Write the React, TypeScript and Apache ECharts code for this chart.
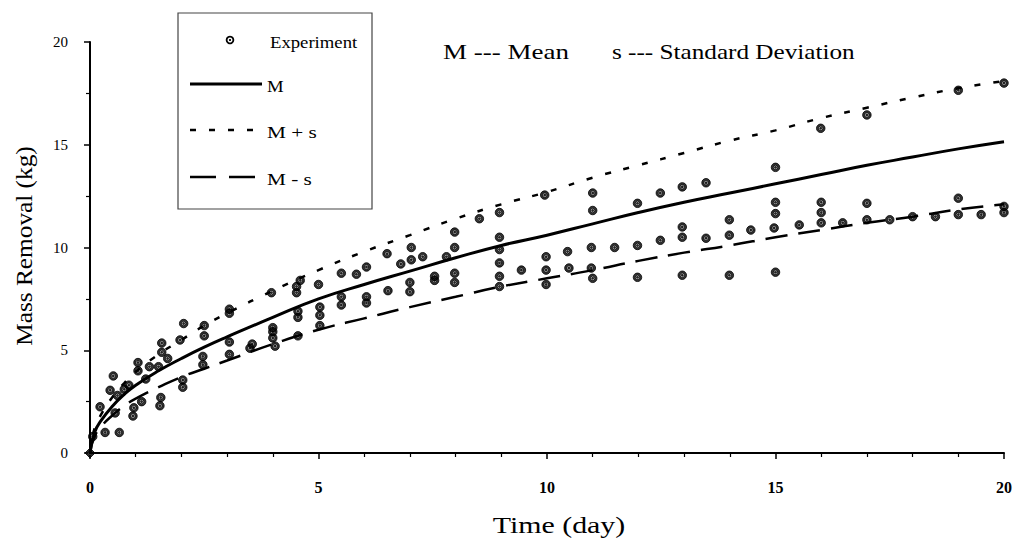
import React, { useEffect, useRef } from "react";
import * as echarts from "echarts";

// ---- data ----
const curveTime = [0, 0.1, 0.25, 0.5, 0.75, 1, 1.5, 2, 2.5, 3, 4, 5, 6, 7, 8, 9, 10, 11, 12, 13, 14, 15, 16, 17, 18, 19, 20];
const meanM = [0, 1.0, 1.6, 2.3, 2.85, 3.3, 4.0, 4.6, 5.15, 5.65, 6.6, 7.5, 8.2, 8.85, 9.5, 10.1, 10.6, 11.15, 11.7, 12.2, 12.65, 13.1, 13.55, 14.0, 14.4, 14.8, 15.15];
const meanPlusS = [0, 1.2, 1.9, 2.75, 3.4, 3.95, 4.8, 5.5, 6.2, 6.8, 7.9, 8.9, 9.8, 10.6, 11.4, 12.1, 12.7, 13.4, 14.0, 14.6, 15.2, 15.7, 16.3, 16.8, 17.3, 17.75, 18.1];
const meanMinusS = [0, 0.8, 1.3, 1.85, 2.3, 2.65, 3.2, 3.7, 4.1, 4.5, 5.3, 6.0, 6.55, 7.1, 7.6, 8.1, 8.5, 8.9, 9.35, 9.75, 10.1, 10.5, 10.85, 11.2, 11.5, 11.85, 12.1];

const expTime = [
  0, 0.06, 0.22, 0.33, 0.44, 0.51, 0.55, 0.64, 0.6, 0.75, 0.85, 0.94, 0.96, 1.05, 1.05, 1.13, 1.3, 1.22, 1.5, 1.53,
  1.55, 1.57, 1.57, 1.7, 1.97, 2.05, 2.03, 2.03, 2.5, 2.5, 2.47, 2.47, 3.05, 3.05, 3.05, 3.05, 3.5, 3.55, 3.97, 4.0,
  4.0, 4.0, 4.05, 4.52, 4.52, 4.55, 4.55, 4.55, 4.6, 5.0, 5.03, 5.03, 5.03, 5.5, 5.5, 5.5, 5.83, 6.05, 6.05, 6.05,
  6.5, 6.52, 6.8, 7.03, 7.03, 7.0, 7.0, 7.28, 7.54, 7.54, 7.8, 7.98, 7.98, 7.98, 7.98, 8.52, 8.96, 8.96, 8.96, 8.96,
  8.96, 8.96, 9.44, 9.95, 9.98, 9.98, 9.98, 10.45, 10.48, 11.0, 11.0, 10.97, 10.97, 11.0, 11.48, 11.98, 11.98, 11.98, 12.48, 12.48,
  12.96, 12.96, 12.96, 12.96, 13.48, 13.48, 13.99, 13.99, 13.99, 14.46, 15.0, 15.0, 15.0, 14.97, 15.0, 15.52, 15.99, 16.0, 16.0, 16.0,
  16.47, 17.0, 17.0, 17.0, 17.5, 18.0, 18.5, 19.0, 19.0, 19.0, 19.5, 20.0, 20.0, 20.0,
];
const expMass = [
  0, 0.8, 2.25, 1.0, 3.05, 3.75, 1.95, 1.0, 2.8, 3.1, 3.3, 1.8, 2.2, 4.0, 4.4, 2.5, 4.2, 3.6, 4.2, 2.3,
  2.7, 4.9, 5.35, 4.6, 5.5, 6.3, 3.2, 3.55, 6.2, 5.7, 4.7, 4.3, 6.8, 7.0, 5.4, 4.8, 5.1, 5.3, 7.8, 5.6,
  6.1, 5.9, 5.2, 8.1, 7.8, 6.9, 6.6, 5.7, 8.4, 8.2, 7.1, 6.7, 6.2, 8.75, 7.6, 7.2, 8.7, 9.05, 7.6, 7.3,
  9.7, 7.9, 9.2, 10.0, 9.4, 8.3, 7.85, 9.55, 8.6, 8.4, 9.55, 10.75, 10.0, 8.75, 8.3, 11.4, 11.7, 10.5, 9.9, 9.25,
  8.6, 8.1, 8.9, 12.55, 9.55, 8.9, 8.2, 9.8, 9.0, 12.65, 11.8, 10.0, 9.0, 8.5, 10.0, 12.15, 10.1, 8.55, 12.65, 10.35,
  12.95, 11.0, 10.5, 8.65, 13.15, 10.45, 11.35, 10.6, 8.65, 10.85, 13.9, 12.2, 11.65, 10.95, 8.8, 11.1, 15.8, 12.2, 11.7, 11.2,
  11.2, 16.45, 12.15, 11.35, 11.35, 11.5, 11.5, 17.65, 12.4, 11.6, 11.6, 18.0, 11.7, 12.0,
];

const xMin = 0;
const xMax = 20;
const xStep = 5;
const yMin = 0;
const yMax = 20;
const yStep = 5;

const legendLabels = ["Experiment", "M", "M + s", "M - s"];
const noteMean = "M --- Mean";
const noteStd = "s --- Standard Deviation";
const xTitle = "Time (day)";
const yTitle = "Mass Removal (kg)";

const FONT = "'Liberation Serif', 'DejaVu Serif', serif";
const DOT_SYMBOL =
  "path://M0,-5 A5,5 0 1,1 0,5 A5,5 0 1,1 0,-5 Z M0,-2.6 A2.6,2.6 0 1,0 0,2.6 A2.6,2.6 0 1,0 0,-2.6 Z M0,-1.2 A1.2,1.2 0 1,1 0,1.2 A1.2,1.2 0 1,1 0,-1.2 Z";
const DIAMOND_SYMBOL = "path://M0,-5 L5,0 L0,5 L-5,0 Z M0,-2.8 L-2.8,0 L0,2.8 L2.8,0 Z";

export default function App() {
  const ref = useRef<HTMLDivElement>(null);

  useEffect(() => {
    if (!ref.current) return;
    const chart = echarts.init(ref.current, undefined, { renderer: "svg" });

    const pair = (xs: number[], ys: number[]) => xs.map((x, i) => [x, ys[i]]);
    const expData = expTime.map((t, i) => {
      if (t === 0 && expMass[i] === 0) {
        return { value: [t, expMass[i]], symbol: DIAMOND_SYMBOL, symbolSize: 10 };
      }
      return { value: [t, expMass[i]] };
    });

    const legendX = 190;
    const legendY = [40, 84, 130, 177];
    const legendFont = `17px ${FONT}`;

    chart.setOption({
      animation: false,
      backgroundColor: "#ffffff",
      grid: { left: 90, right: 10, top: 42, bottom: 89 },
      xAxis: {
        type: "value",
        min: xMin,
        max: xMax,
        interval: xStep,
        axisLine: { show: true, lineStyle: { color: "#000", width: 2 } },
        axisTick: { show: true, length: 6, lineStyle: { color: "#000", width: 1.5 } },
        minorTick: { show: true, splitNumber: 5, length: 4, lineStyle: { color: "#000", width: 1.2 } },
        splitLine: { show: false },
        axisLabel: { fontFamily: FONT, fontSize: 16, fontWeight: "bold", color: "#000", margin: 26 },
      },
      yAxis: {
        type: "value",
        min: yMin,
        max: yMax,
        interval: yStep,
        axisLine: { show: true, lineStyle: { color: "#000", width: 2 } },
        axisTick: { show: true, length: 6, lineStyle: { color: "#000", width: 1.5 } },
        minorTick: { show: true, splitNumber: 2, length: 4, lineStyle: { color: "#000", width: 1.2 } },
        splitLine: { show: false },
        axisLabel: { fontFamily: FONT, fontSize: 15, color: "#000", margin: 22 },
      },
      series: [
        {
          name: legendLabels[1],
          type: "line",
          data: pair(curveTime, meanM),
          smooth: true,
          showSymbol: false,
          symbol: "none",
          lineStyle: { color: "#000", width: 3 },
          z: 2,
        },
        {
          name: legendLabels[2],
          type: "line",
          data: pair(curveTime, meanPlusS),
          smooth: true,
          showSymbol: false,
          symbol: "none",
          lineStyle: { color: "#000", width: 2.5, type: [6, 13] },
          z: 2,
        },
        {
          name: legendLabels[3],
          type: "line",
          data: pair(curveTime, meanMinusS),
          smooth: true,
          showSymbol: false,
          symbol: "none",
          lineStyle: { color: "#000", width: 2.5, type: [22, 11] },
          z: 2,
        },
        {
          name: legendLabels[0],
          type: "scatter",
          data: expData,
          symbol: DOT_SYMBOL,
          symbolSize: 8.5,
          itemStyle: { color: "#000", borderColor: "#000" },
          z: 3,
        },
      ],
      graphic: [
        // axis titles
        {
          type: "text",
          x: 559,
          y: 525,
          scaleX: 1.3,
          style: { text: xTitle, font: `23px ${FONT}`, fill: "#000", align: "center", verticalAlign: "middle" },
        },
        {
          type: "text",
          x: 24,
          y: 246,
          rotation: Math.PI / 2,
          scaleX: 1.1,
          style: { text: yTitle, font: `23px ${FONT}`, fill: "#000", align: "center", verticalAlign: "middle" },
        },
        // legend box
        {
          type: "rect",
          shape: { x: 178, y: 13, width: 194, height: 196 },
          style: { fill: "none", stroke: "#444", lineWidth: 1.2 },
        },
        {
          type: "circle",
          shape: { cx: 230, cy: legendY[0], r: 3.4 },
          style: { fill: "#fff", stroke: "#000", lineWidth: 1.8 },
        },
        {
          type: "circle",
          shape: { cx: 230, cy: legendY[0], r: 1.1 },
          style: { fill: "#000" },
        },
        {
          type: "text",
          x: 270,
          y: legendY[0] + 2,
          scaleX: 1.1,
          style: { text: legendLabels[0], font: legendFont, fill: "#000", verticalAlign: "middle" },
        },
        {
          type: "line",
          shape: { x1: legendX, y1: legendY[1], x2: 262, y2: legendY[1] },
          style: { stroke: "#000", lineWidth: 3 },
        },
        {
          type: "text",
          x: 267,
          y: legendY[1] + 2,
          scaleX: 1.1,
          style: { text: legendLabels[1], font: legendFont, fill: "#000", verticalAlign: "middle" },
        },
        {
          type: "line",
          shape: { x1: legendX, y1: legendY[2], x2: 262, y2: legendY[2] },
          style: { stroke: "#000", lineWidth: 2.5, lineDash: [6, 13] },
        },
        {
          type: "text",
          x: 267,
          y: legendY[2] + 2,
          scaleX: 1.25,
          style: { text: legendLabels[2], font: legendFont, fill: "#000", verticalAlign: "middle" },
        },
        {
          type: "line",
          shape: { x1: legendX, y1: legendY[3], x2: 262, y2: legendY[3] },
          style: { stroke: "#000", lineWidth: 2.5, lineDash: [26, 13] },
        },
        {
          type: "text",
          x: 267,
          y: legendY[3] + 2,
          scaleX: 1.25,
          style: { text: legendLabels[3], font: legendFont, fill: "#000", verticalAlign: "middle" },
        },
        // annotation
        {
          type: "text",
          x: 443,
          y: 52,
          scaleX: 1.35,
          style: { text: noteMean, font: `20px ${FONT}`, fill: "#000", verticalAlign: "middle" },
        },
        {
          type: "text",
          x: 612,
          y: 52,
          scaleX: 1.26,
          style: { text: noteStd, font: `20px ${FONT}`, fill: "#000", verticalAlign: "middle" },
        },
      ],
    });

    return () => chart.dispose();
  }, []);

  return (
    <div
      ref={ref}
      style={{ position: "fixed", left: 0, top: 0, width: 1015, height: 542, background: "#fff" }}
    />
  );
}
